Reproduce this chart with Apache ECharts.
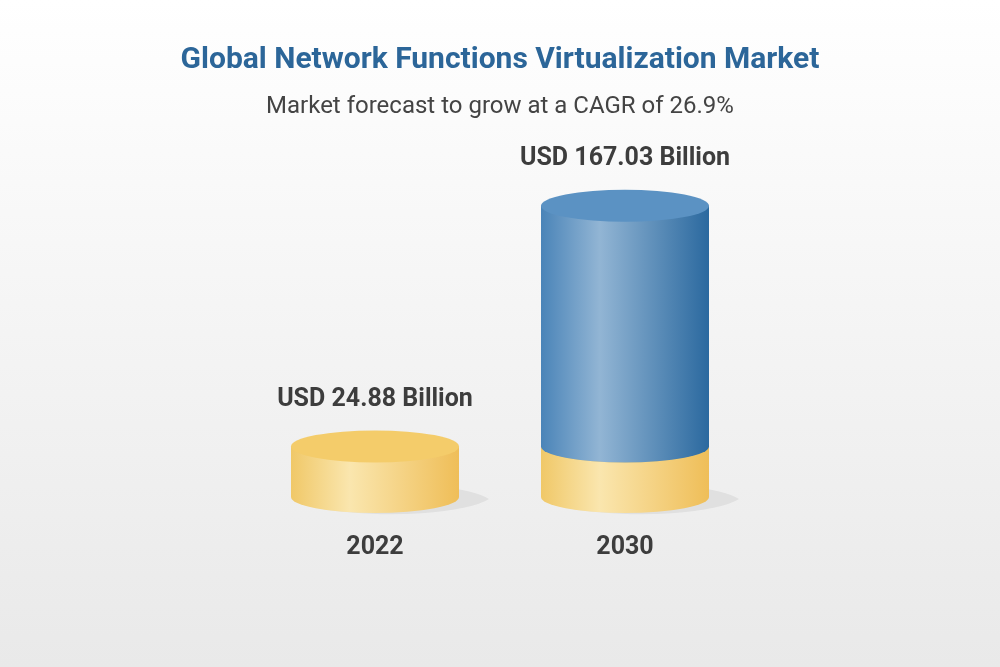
<!DOCTYPE html>
<html><head><meta charset="utf-8">
<script src="https://cdn.jsdelivr.net/npm/echarts@6/dist/echarts.min.js"></script>
<style>html,body{margin:0;padding:0;}#c{width:1000px;height:667px;}</style>
</head><body><div id="c"></div>
<script>
const categories = ['2022', '2030'];
const values = [24.88, 167.03];
const valueLabels = ['USD 24.88 Billion', 'USD 167.03 Billion'];
const baseValue = 24.88;

const chart = echarts.init(document.getElementById('c'));
const RX = 84, RY = 16;
function lg(stops){return new echarts.graphic.LinearGradient(0,0,1,0,stops);}
const yellowBody = [{offset:0,color:'#f0c868'},{offset:0.35,color:'#fae6ae'},{offset:1,color:'#efbe58'}];
const blueBody = [{offset:0,color:'#4a84b8'},{offset:0.35,color:'#92b5d4'},{offset:1,color:'#2b699f'}];
function cyl(cx, yTop, yBot, body, topColor){
  const l=cx-RX,r=cx+RX;
  return [
    {type:'path',shape:{pathData:`M${l},${yTop} L${l},${yBot} A${RX},${RY} 0 0 0 ${r},${yBot} L${r},${yTop} Z`},style:{fill:lg(body)}},
    {type:'path',shape:{pathData:`M${l},${yTop} A${RX},${RY} 0 0 1 ${r},${yTop} A${RX},${RY} 0 0 1 ${l},${yTop} Z`},style:{fill:topColor}}
  ];
}
chart.setOption({
  backgroundColor: new echarts.graphic.LinearGradient(0,0,0,1,[{offset:0,color:'#ffffff'},{offset:1,color:'#e9e9e9'}]),
  title:{text:'Global Network Functions Virtualization Market',subtext:'Market forecast to grow at a CAGR of 26.9%',left:'center',top:40,itemGap:20,
    textStyle:{fontFamily:'Roboto',fontWeight:'bold',fontSize:30,color:'#2c6699'},
    subtextStyle:{fontFamily:'Roboto',fontSize:24,color:'#444'}},
  grid:{left:250,width:500,top:150,bottom:170},
  xAxis:{type:'category',data:categories,axisLine:{show:false},axisTick:{show:false},
    axisLabel:{margin:38,fontFamily:'Roboto',fontWeight:'bold',fontSize:25,color:'#3d3d3d'}},
  yAxis:{type:'value',min:-5,max:200,interval:5,show:false,splitLine:{show:false}},
  series:[{type:'custom',data:values.map((v,i)=>[i,v]),
    renderItem:function(params,api){
      const i=api.value(0), v=api.value(1);
      const pBot=api.coord([i,-5]), pTop=api.coord([i,v]), pBase=api.coord([i,baseValue]);
      const cx=pBot[0];
      let ch=[{type:'path',shape:{pathData:`M${cx-RX},${pBot[1]+2} A${RX+20},${RY+6} 0 0 0 ${cx+RX+30},${pBot[1]+2} A${RX+20},${RY+6} 0 0 0 ${cx-RX},${pBot[1]+2} Z`},style:{fill:'rgba(0,0,0,0.06)'}}];
      if(v>baseValue){
        ch=ch.concat(cyl(cx,pBase[1],pBot[1],yellowBody,'#f4cc6a'));
        ch=ch.concat(cyl(cx,pTop[1],pBase[1],blueBody,'#5b92c3'));
      } else {
        ch=ch.concat(cyl(cx,pTop[1],pBot[1],yellowBody,'#f4cc6a'));
      }
      ch.push({type:'text',style:{text:valueLabels[params.dataIndex],x:cx,y:pTop[1]-47,align:'center',verticalAlign:'middle',
        fontFamily:'Roboto',fontWeight:'bold',fontSize:25,fill:'#3d3d3d'}});
      return {type:'group',children:ch};
    }}]
});
</script></body></html>
